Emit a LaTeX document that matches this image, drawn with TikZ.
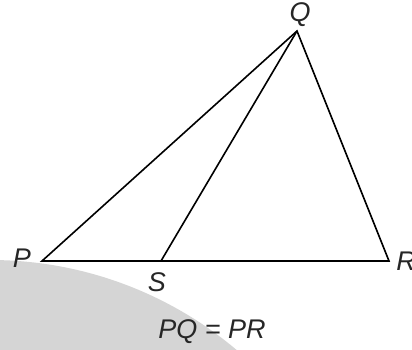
\documentclass[tikz,border=0pt]{standalone}
\usepackage{fontspec}
\setmainfont{Liberation Sans}
\usepackage{tikz}
\usetikzlibrary{positioning}

\begin{document}
\begin{tikzpicture}[x=1pt, y=1pt, line width=1.6pt,
  every node/.style={inner sep=0pt,text=black!85,font=\fontsize{27}{30}\selectfont\itshape}]
\useasboundingbox (0,0) rectangle (412,350);
% grey patch in the lower left corner
\begin{scope}
\clip (0,0) rectangle (412,350);
\fill[gray!33] (-10,-293) circle (383);
\end{scope}

% Vertices of the triangle
\coordinate (P) at (42,89);
\coordinate (Q) at (297,319);
\coordinate (R) at (389,89);
\coordinate (S) at (161,89);

% Edges
\draw[line join=miter] (P)--(Q)--(R)--cycle;
\draw (Q)--(S);

% Labels
\node (lP) at (22,92) {P};
\node (lQ) at (300,335) {Q};
\node (lR) at (406,89) {R};
\node (lS) at (157,68) {S};
\node (eq) at (212,18) {PQ = PR};
\end{tikzpicture}
\end{document}
